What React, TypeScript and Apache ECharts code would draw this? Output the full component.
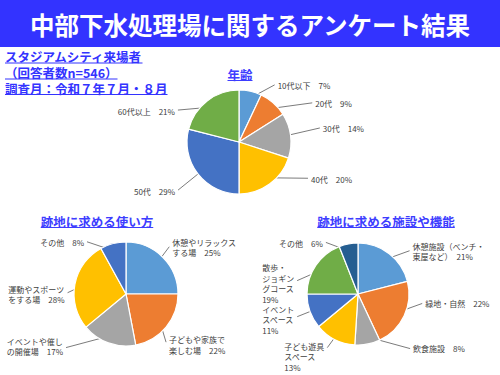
import React, { useEffect, useRef } from 'react';
import * as echarts from 'echarts';

// ---------- data ----------
const HEADER_TITLE = '中部下水処理場に関するアンケート結果';
const SUB_LINES = ['スタジアムシティ来場者', '（回答者数n=546）', '調査月：令和７年７月・８月'];
const CHART_TITLES = ['年齢', '跡地に求める使い方', '跡地に求める施設や機能'];

const AGE_NAMES = ['10代以下', '20代', '30代', '40代', '50代', '60代以上'];
const AGE_VALUES = [7, 9, 14, 20, 29, 21];

const USE_NAMES = ['休憩やリラックス\nする場', '子どもや家族で\n楽しむ場', 'イベントや催し\nの開催場', '運動やスポーツ\nをする場', 'その他'];
const USE_VALUES = [25, 22, 17, 28, 8];

const FAC_NAMES = ['休憩施設（ベンチ・\n東屋など）', '緑地・自然', '飲食施設', '子ども遊具\nスペース', 'イベント\nスペース', '散歩・\nジョギン\nグコース', 'その他'];
const FAC_VALUES = [21, 22, 8, 13, 11, 19, 6];
const FAC_SEP = ['　', '　', '　', '\n', '\n', '\n', '　'];

// ---------- styles ----------
const PALETTE = ['#5B9BD5', '#ED7D31', '#A5A5A5', '#FFC000', '#4472C4', '#70AD47', '#255E91'];
const BLUE = '#3333FF';
const FONT = '"Noto Sans CJK JP", "Noto Sans", sans-serif';

// label offsets per slice: [horizontal line length, vertical line length, text vertical offset]
const AGE_LBL = [[26, -14, 1], [44, -6, 1], [37, -8.5, 1], [43, 0.5, 1], [26, 21, 1], [34, 3, 1]];
const USE_LBL = [[12, -16, 1], [6, 20, 3], [45, 12, -1], [15, 7, 2], [28, -9.4, 1]];
const FAC_LBL = [[25, -9, 1], [25, -9, 0], [44, 12, 0], [11, 15, 9], [20, 8, 3], [25, 11, 3], [24, -9, 1]];

const measure = (text: string, font: string): number => {
  const ctx = document.createElement('canvas').getContext('2d');
  if (!ctx) return text.length * 12;
  ctx.font = font;
  return ctx.measureText(text).width;
};

const makeLayout = (offs: number[][]) => (p: any) => {
  const pts = p.labelLinePoints;
  const o = offs[p.dataIndex];
  if (!pts || !o || !p.labelRect) return {};
  const side = p.align === 'right' ? -1 : 1;
  const s = pts[0];
  const ex = s[0] + side * o[0];
  const ey = s[1] + o[1];
  const w = p.labelRect.width;
  const gap = 3;
  return {
    x: side > 0 ? ex + gap : ex - gap - w,
    y: ey + o[2],
    align: 'left',
    verticalAlign: 'middle',
    labelLinePoints: [[s[0], s[1]], [ex, ey]],
  };
};

const pieSeries = (
  names: string[],
  values: number[],
  center: number[],
  radius: number,
  offs: number[][],
  labelText: (i: number) => string
) => {
  const data = names.map((n, i) => ({ name: n, value: values[i], itemStyle: { color: PALETTE[i] } }));
  return [
    {
      type: 'pie',
      center,
      radius,
      startAngle: 90,
      clockwise: true,
      silent: true,
      avoidLabelOverlap: false,
      label: { show: false },
      labelLine: { show: false },
      itemStyle: { borderColor: '#ffffff', borderWidth: 1.2 },
      data,
    },
    {
      type: 'pie',
      center,
      radius: radius * 0.85,
      startAngle: 90,
      clockwise: true,
      silent: true,
      avoidLabelOverlap: false,
      itemStyle: { color: 'rgba(0,0,0,0)', borderWidth: 0 },
      label: {
        show: true,
        position: 'outside',
        fontFamily: FONT,
        fontSize: 8,
        lineHeight: 10.5,
        color: '#404040',
        formatter: (p: any) => labelText(p.dataIndex),
      },
      labelLine: { show: true, length: 0, length2: 10, lineStyle: { color: '#595959', width: 0.8 } },
      labelLayout: makeLayout(offs),
      data: names.map((n, i) => ({ name: n, value: values[i] })),
    },
  ];
};

export default function App() {
  const ref = useRef<HTMLDivElement>(null);
  useEffect(() => {
    if (!ref.current) return;
    const chart = echarts.init(ref.current, undefined, { renderer: 'svg' });

    const subFont = `bold 12.5px ${FONT}`;
    const graphics: any[] = [
      { type: 'rect', shape: { x: 0, y: 0, width: 500, height: 47 }, style: { fill: BLUE }, silent: true },
      {
        type: 'text', x: 250, y: 24,
        style: { text: HEADER_TITLE, font: `bold 24.5px ${FONT}`, fill: '#ffffff', align: 'center', verticalAlign: 'middle' },
      },
    ];
    const subY = [56.5, 72.5, 88];
    SUB_LINES.forEach((t, i) => {
      const w = measure(t, subFont);
      graphics.push({ type: 'text', x: 5, y: subY[i], style: { text: t, font: subFont, fill: BLUE, align: 'left', verticalAlign: 'middle' } });
      graphics.push({ type: 'line', shape: { x1: 5, y1: subY[i] + 6.5, x2: 5 + w, y2: subY[i] + 6.5 }, style: { stroke: BLUE, lineWidth: 1 } });
    });
    const titlePos = [[240, 74], [97, 221], [386, 221]];
    CHART_TITLES.forEach((t, i) => {
      const w = measure(t, subFont);
      const [cx, cy] = titlePos[i];
      graphics.push({ type: 'text', x: cx, y: cy, style: { text: t, font: subFont, fill: '#3D3DFF', align: 'center', verticalAlign: 'middle' } });
      graphics.push({ type: 'line', shape: { x1: cx - w / 2, y1: cy + 6.5, x2: cx + w / 2, y2: cy + 6.5 }, style: { stroke: '#3D3DFF', lineWidth: 1 } });
    });

    chart.setOption({
      animation: false,
      backgroundColor: '#ffffff',
      graphic: graphics,
      series: [
        ...pieSeries(AGE_NAMES, AGE_VALUES, [239, 142], 52, AGE_LBL, (i) => `${AGE_NAMES[i]}　${AGE_VALUES[i]}%`),
        ...pieSeries(USE_NAMES, USE_VALUES, [126, 294], 52, USE_LBL, (i) => `${USE_NAMES[i]}　${USE_VALUES[i]}%`),
        ...pieSeries(FAC_NAMES, FAC_VALUES, [358, 294], 51, FAC_LBL, (i) => `${FAC_NAMES[i]}${FAC_SEP[i]}${FAC_VALUES[i]}%`),
      ],
    });
    return () => chart.dispose();
  }, []);
  return <div ref={ref} style={{ position: 'absolute', left: 0, top: 0, width: 500, height: 375 }} />;
}
